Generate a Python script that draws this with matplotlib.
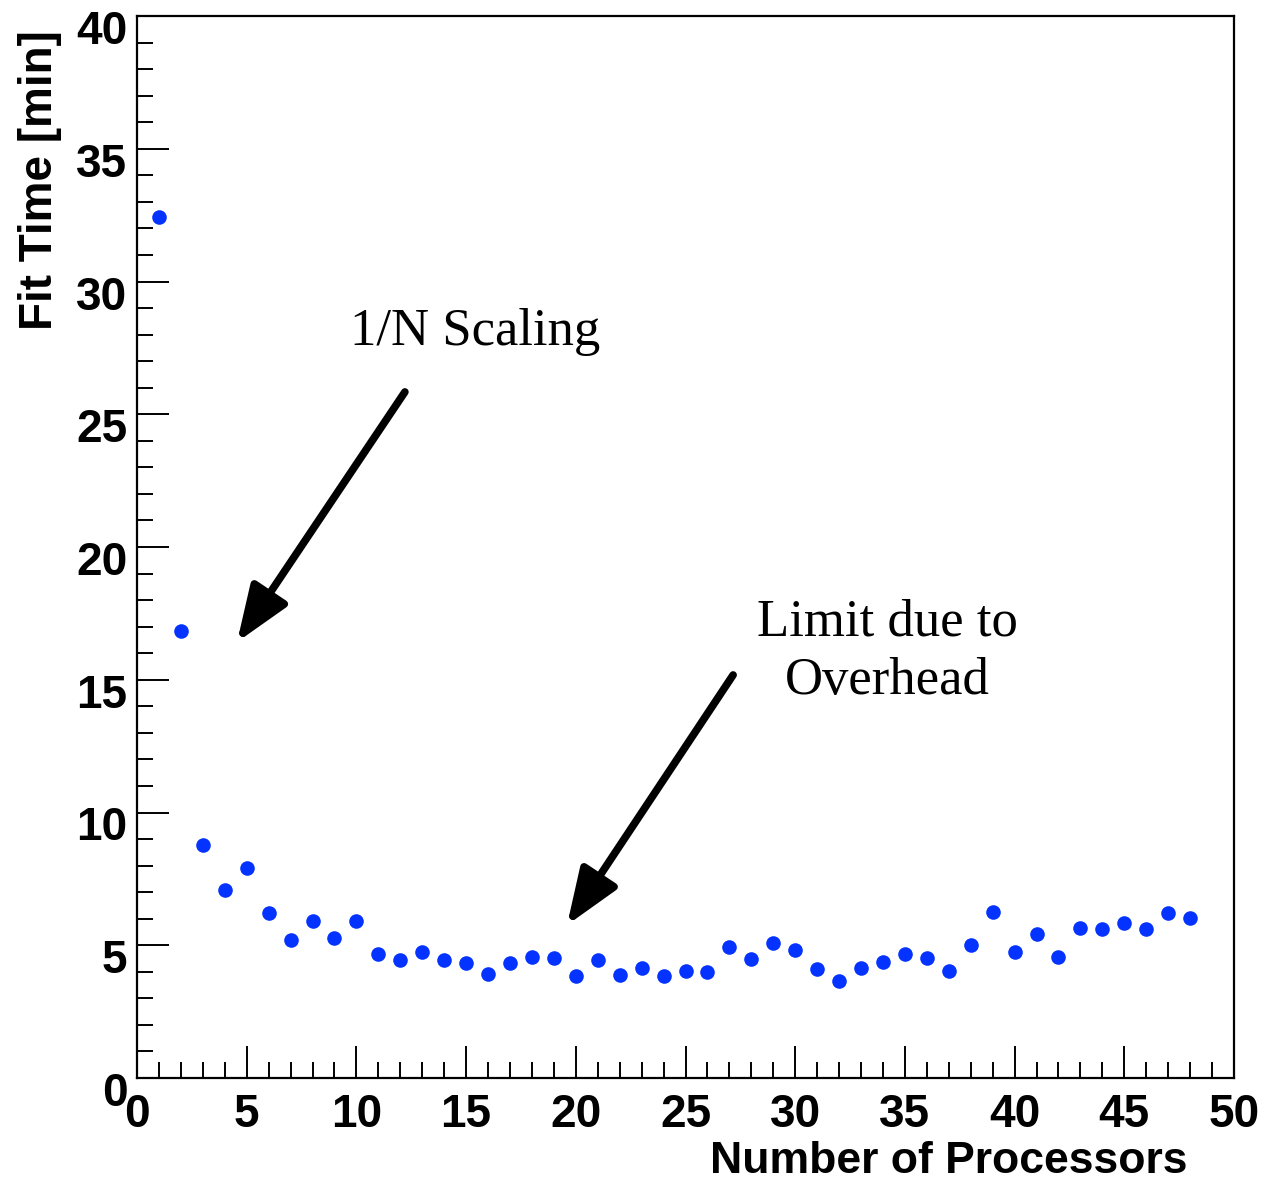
import numpy as np
import matplotlib
matplotlib.use('Agg')
import matplotlib.pyplot as plt
from matplotlib.ticker import MultipleLocator
import matplotlib.transforms as mtrans

# fit time vs number of processors
nproc = list(range(1, 49))
fit_time = [32.43, 16.84, 8.79, 7.07, 7.90, 6.22, 5.20, 5.90, 5.28, 5.91,
            4.68, 4.46, 4.73, 4.46, 4.32, 3.90, 4.34, 4.55, 4.53, 3.84,
            4.46, 3.88, 4.15, 3.83, 4.02, 4.00, 4.95, 4.47, 5.08, 4.81,
            4.11, 3.65, 4.14, 4.37, 4.67, 4.53, 4.03, 5.01, 6.26, 4.76,
            5.42, 4.56, 5.66, 5.61, 5.85, 5.61, 6.23, 6.03]

W, H = 1277, 1193
fig = plt.figure(figsize=(W/100., H/100.), dpi=100)
ax = fig.add_axes([137./W, 1-1078./H, 1097./W, 1062./H])

ax.plot(nproc, fit_time, 'o', color='#0433ff', ms=10.5, mec='none')

ax.set_xlim(0, 50)
ax.set_ylim(0, 40)

# ROOT-like axes: inward ticks, only bottom/left
ax.xaxis.set_major_locator(MultipleLocator(5))
ax.xaxis.set_minor_locator(MultipleLocator(1))
ax.yaxis.set_major_locator(MultipleLocator(5))
ax.yaxis.set_minor_locator(MultipleLocator(1))
ax.tick_params(which='both', direction='in', top=False, right=False, width=1.4)
ax.tick_params(which='major', length=23)
ax.tick_params(which='minor', length=11.5)
ax.tick_params(axis='x', pad=11)
ax.tick_params(axis='y', pad=7)
for sp in ax.spines.values():
    sp.set_linewidth(1.6)

tickfont = dict(family='Liberation Sans', weight='bold', size=33)
for lab in ax.get_xticklabels():
    lab.set_fontproperties(matplotlib.font_manager.FontProperties(**tickfont))
off = mtrans.ScaledTranslation(0, -11/100., fig.dpi_scale_trans)
for lab in ax.get_yticklabels():
    lab.set_fontproperties(matplotlib.font_manager.FontProperties(**tickfont))
    lab.set_transform(lab.get_transform() + off)

ax.set_xlabel('Number of Processors', loc='right', family='Liberation Sans',
              weight='bold', size=32)
ax.xaxis.set_label_coords((1188-137)/1097., -(1141-1078)/1062.)
ax.set_ylabel('Fit Time [min]', loc='top', family='Liberation Sans',
              weight='bold', size=33)
ax.yaxis.set_label_coords((62-137)/1097., 1-14/1062.)

# annotations
aprops = dict(arrowstyle='-|>,head_length=1.7,head_width=0.65', lw=5.5,
              color='k', mutation_scale=20, shrinkA=0, shrinkB=0)
ax.annotate('', xy=(4.56, 16.42), xytext=(12.21, 25.84), arrowprops=aprops)
ax.annotate('', xy=(19.6, 5.76), xytext=(27.17, 15.18), arrowprops=aprops)
ax.text(15.4, 28.1, '1/N Scaling', family='Liberation Serif', size=38,
        ha='center', va='center')
ax.text(34.2, 16.05, 'Limit due to\nOverhead', family='Liberation Serif', size=38,
        ha='center', va='center', linespacing=1.3)

plt.savefig('out.png', dpi=100)
